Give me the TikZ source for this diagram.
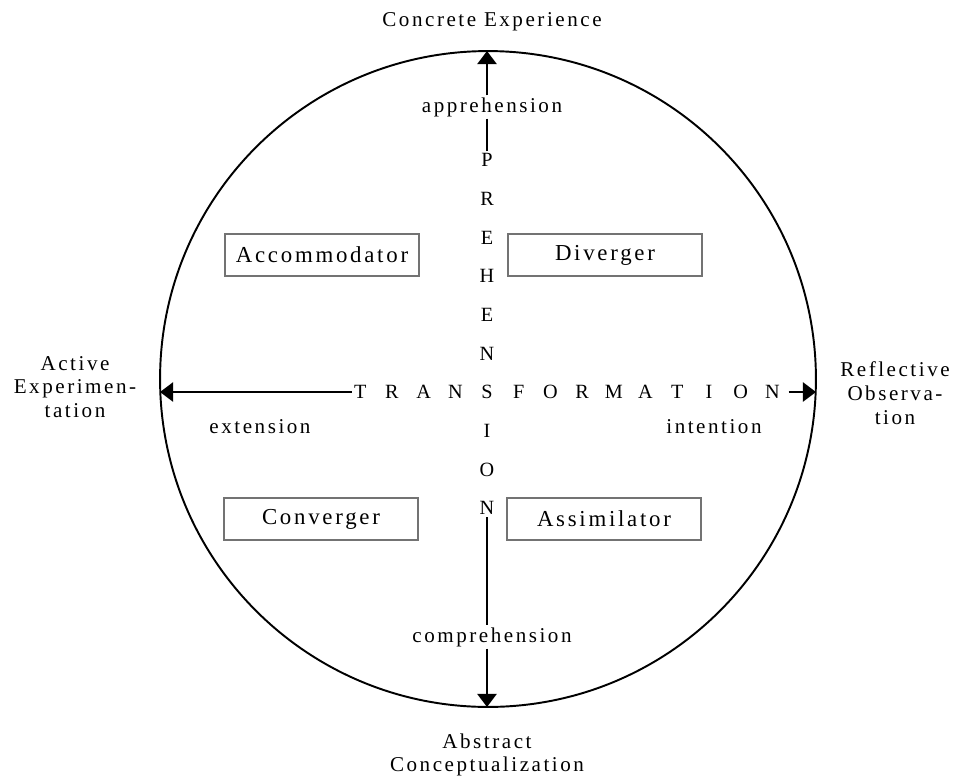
\documentclass[tikz,border=0pt]{standalone}
\usepackage{fontspec}
\setmainfont{Liberation Serif}[LetterSpace=12]
\usetikzlibrary{arrows.meta}

\tikzset{
	lbl/.style={font=\fontsize{12}{13.5}\selectfont, inner sep=1pt},
	sidelbl/.style={lbl, align=center},
	letter/.style={font=\fontsize{11.5}{12}\selectfont, inner sep=1pt},
	stylebox/.style={draw=black!55, line width=0.6pt, minimum width=3.88cm,
		minimum height=0.84cm, inner sep=1pt, font=\fontsize{13}{14}\selectfont},
	axis/.style={line width=1.1pt},
	tip/.style={-{Triangle[width=11pt,length=7.5pt]}}
}

\begin{document}
\begin{tikzpicture}[x=0.02cm, y=-0.02cm]
	\useasboundingbox (0,0) rectangle (954,778);
	
	% the circle
	\node[circle, draw, line width=1.1pt, minimum size=13.12cm, inner sep=0pt] (ring) at (488,379) {};
	\coordinate (top) at (487,51);
	\coordinate (bottom) at (487,707);
	\coordinate (left) at (160,392);
	\coordinate (right) at (816,392);
	
	% pole labels
	\node[lbl] (concrete) at (492,22) {Concrete Experience};
	\node[sidelbl] (abstract) at (487,755) {Abstract\\Conceptualization};
	\node[sidelbl] (active) at (75,387) {Active\\Experimen-\\tation};
	\node[sidelbl] (reflective) at (895,393) {Reflective\\Observa-\\tion};
	
	% axis labels
	\node[lbl] (appr) at (492,107) {apprehension};
	\node[lbl] (compr) at (492,637) {comprehension};
	\node[lbl] (ext) at (260,427) {extension};
	\node[lbl] (int) at (714,427) {intention};
	
	% TRANSFORMATION across
	\foreach \c [count=\i] in {T,R,A,N,S,F,O,R,M,A,T,I,O,N}
		\node[letter] (h\i) at ({487+31.7*(\i-5)},392) {\c};
	% PREHENSION down (S is shared)
	\foreach \c/\i in {P/1,R/2,E/3,H/4,E/5,N/6,I/8,O/9,N/10}
		\node[letter] (v\i) at (487,{160+38.7*(\i-1)}) {\c};
	
	% arrows
	\draw[axis, tip] (appr.north -| top) -- (top);
	\draw[axis] (appr.south -| top) -- (v1.north);
	\draw[axis] (v10.south) -- (compr.north -| bottom);
	\draw[axis, tip] (compr.south -| bottom) -- (bottom);
	\draw[axis, tip] (h1.west) -- (left);
	\draw[axis, tip, shorten <=4pt] (h14.east) -- (right);
	
	% learning styles
	\node[stylebox] (accom) at (322,255) {Accommodator};
	\node[stylebox] (diverg) at (605,255) {Diverger};
	\node[stylebox] (converg) at (321,519) {Converger};
	\node[stylebox] (assim) at (604,519) {Assimilator};
\end{tikzpicture}
\end{document}
